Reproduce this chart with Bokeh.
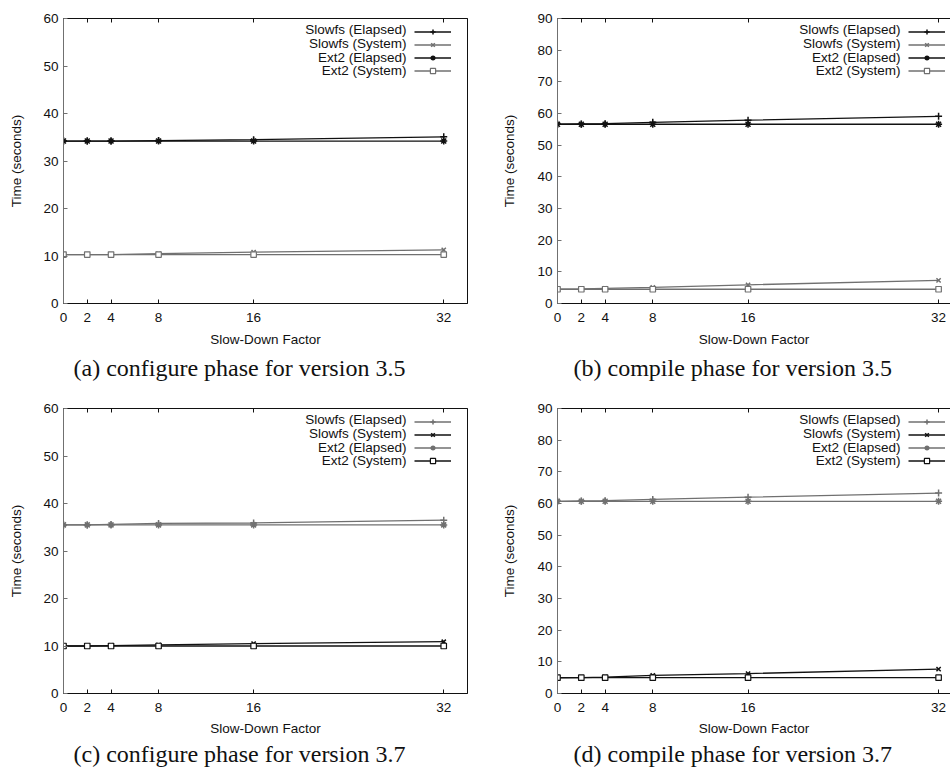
from bokeh.plotting import figure
from bokeh.layouts import row, column
from bokeh.models import FixedTicker, LinearAxis, Range1d, Legend, LegendItem, Label, Title
from bokeh.core.properties import value
from bokeh.embed import file_html
from bokeh.resources import INLINE

# ---------------- data ----------------
factors = [0, 2, 4, 8, 16, 32]
series_names = ["Slowfs (Elapsed)", "Slowfs (System)", "Ext2 (Elapsed)", "Ext2 (System)"]

a_slowfs_elapsed = [34.2, 34.2, 34.2, 34.3, 34.5, 35.1]
a_slowfs_system = [10.3, 10.3, 10.3, 10.5, 10.8, 11.3]
a_ext2_elapsed = [34.2, 34.2, 34.2, 34.2, 34.2, 34.2]
a_ext2_system = [10.3, 10.3, 10.3, 10.3, 10.3, 10.3]

b_slowfs_elapsed = [56.6, 56.7, 56.8, 57.2, 57.9, 59.1]
b_slowfs_system = [4.5, 4.6, 4.8, 5.1, 5.9, 7.3]
b_ext2_elapsed = [56.6, 56.6, 56.6, 56.6, 56.6, 56.6]
b_ext2_system = [4.5, 4.5, 4.5, 4.5, 4.5, 4.5]

c_slowfs_elapsed = [35.5, 35.5, 35.6, 35.8, 35.9, 36.5]
c_slowfs_system = [10.0, 10.0, 10.1, 10.25, 10.5, 10.9]
c_ext2_elapsed = [35.5, 35.5, 35.5, 35.5, 35.5, 35.5]
c_ext2_system = [10.0, 10.0, 10.0, 10.0, 10.0, 10.0]

d_slowfs_elapsed = [60.7, 60.8, 60.9, 61.3, 62.0, 63.3]
d_slowfs_system = [4.95, 5.0, 5.2, 5.7, 6.3, 7.7]
d_ext2_elapsed = [60.7, 60.7, 60.7, 60.7, 60.7, 60.7]
d_ext2_system = [5.0, 5.0, 5.0, 5.0, 5.0, 5.0]

captions = ["(a) configure phase for version 3.5",
            "(b) compile phase for version 3.5",
            "(c) configure phase for version 3.7",
            "(d) compile phase for version 3.7"]
y_max = [60, 90, 60, 90]
x_label = "Slow-Down Factor"
y_label = "Time (seconds)"

# ---------------- styling ----------------
BLACK = "#111111"
GRAY = "#707070"
SANS = "Liberation Sans"
SERIF = "Liberation Serif"
markers = ["cross", "x", "asterisk", "square"]
marker_sizes = [7, 6, 7, 5.5]


def make_panel(caption, ymax, series, colors, fw, fh, ml, mt, mb, mr, xmax,
               cap_offset, cap_standoff, ylab_standoff, xlab_standoff, outline):
    p = figure(width=fw, height=fh, output_backend="svg", toolbar_location=None,
               x_range=Range1d(0, xmax), y_range=Range1d(0, ymax),
               min_border_left=ml, min_border_top=mt, min_border_bottom=mb,
               min_border_right=mr, background_fill_color="white",
               border_fill_color="white")
    p.grid.visible = False
    p.outline_line_color = BLACK if outline else None
    p.outline_line_width = 1

    xt = FixedTicker(ticks=factors)
    yt = FixedTicker(ticks=list(range(0, ymax + 1, 10)))

    p.xaxis.ticker = xt
    p.xaxis.axis_label = x_label
    p.yaxis.ticker = yt
    p.yaxis.axis_label = y_label
    for ax in (p.xaxis[0], p.yaxis[0]):
        ax.major_tick_in = 4
        ax.major_tick_out = 0
        ax.minor_tick_line_color = None
        ax.major_label_text_font = SANS
        ax.major_label_text_font_size = "13.5px"
        ax.major_label_text_color = BLACK
        ax.axis_label_text_font = SANS
        ax.axis_label_text_font_size = "13.5px"
        ax.axis_label_text_font_style = "normal"
        ax.axis_label_text_color = BLACK
    p.xaxis.major_label_standoff = 9
    p.yaxis.major_label_standoff = 5
    p.xaxis.axis_line_color = BLACK
    p.xaxis.major_tick_line_color = BLACK
    p.yaxis.axis_line_color = GRAY
    p.yaxis.major_tick_line_color = GRAY
    p.xaxis.axis_label_standoff = xlab_standoff
    p.yaxis.axis_label_standoff = ylab_standoff

    top = LinearAxis(ticker=xt, major_tick_in=4, major_tick_out=0,
                     minor_tick_line_color=None, major_label_text_color=None,
                     major_label_text_font_size="1px",
                     major_label_standoff=0, axis_line_color=BLACK,
                     major_tick_line_color=BLACK)
    p.add_layout(top, "above")

    items = []
    for i, (name, ys) in enumerate(zip(series_names, series)):
        col = colors[i]
        lr = p.line(factors, ys, line_color=col, line_width=1.3)
        if markers[i] == "square":
            mk = p.scatter(factors, ys, marker="square", size=marker_sizes[i],
                           line_color=col, fill_color="white", line_width=1.2)
        else:
            mk = p.scatter(factors, ys, marker=markers[i], size=marker_sizes[i],
                           line_color=col, line_width=1.5)
        items.append(LegendItem(label=value(""), renderers=[lr, mk]))

    frame_h = fh - mt - mb
    row_h = 13.6
    first_row = 11.3
    leg = Legend(items=items, location=(351, frame_h - first_row + row_h / 2 - 4 * row_h),
                 glyph_width=37, glyph_height=13, label_width=0, label_height=13,
                 label_standoff=0, spacing=0, padding=0, margin=0,
                 border_line_color=None, background_fill_alpha=0,
                 label_text_font_size="1px", label_text_color=None)
    p.add_layout(leg)
    for i, name in enumerate(series_names):
        p.add_layout(Label(x=343, y=frame_h - first_row - i * row_h,
                           x_units="screen", y_units="screen", text=name,
                           text_align="right", text_baseline="middle",
                           text_font=SANS, text_font_size="13.5px",
                           text_color=BLACK))

    p.add_layout(Title(text=caption, align="left", offset=cap_offset,
                       text_font=SERIF, text_font_size="24px",
                       text_font_style="normal", text_color=BLACK,
                       standoff=cap_standoff), "below")
    return p


col_ab = [BLACK, GRAY, BLACK, GRAY]
col_cd = [GRAY, BLACK, GRAY, BLACK]

# top row: 387 px tall, frame 18..303 ; bottom row: 380 px tall, frame 408..693
pa = make_panel(captions[0], y_max[0],
                [a_slowfs_elapsed, a_slowfs_system, a_ext2_elapsed, a_ext2_system],
                col_ab, 475, 387, 63, 18, 84, 8, 34, 10, 6, 16, 7, True)
pb = make_panel(captions[1], y_max[1],
                [b_slowfs_elapsed, b_slowfs_system, b_ext2_elapsed, b_ext2_system],
                col_ab, 475, 387, 82, 18, 84, 0, 33, 16, 6, 17, 7, False)
pc = make_panel(captions[2], y_max[2],
                [c_slowfs_elapsed, c_slowfs_system, c_ext2_elapsed, c_ext2_system],
                col_cd, 475, 380, 63, 21, 74, 8, 34, 10, 0, 16, 6, True)
pd = make_panel(captions[3], y_max[3],
                [d_slowfs_elapsed, d_slowfs_system, d_ext2_elapsed, d_ext2_system],
                col_cd, 475, 380, 82, 21, 74, 0, 33, 16, 0, 17, 6, False)

layout = column(row(pa, pb), row(pc, pd))
open("out.html", "w").write(file_html(layout, INLINE))
